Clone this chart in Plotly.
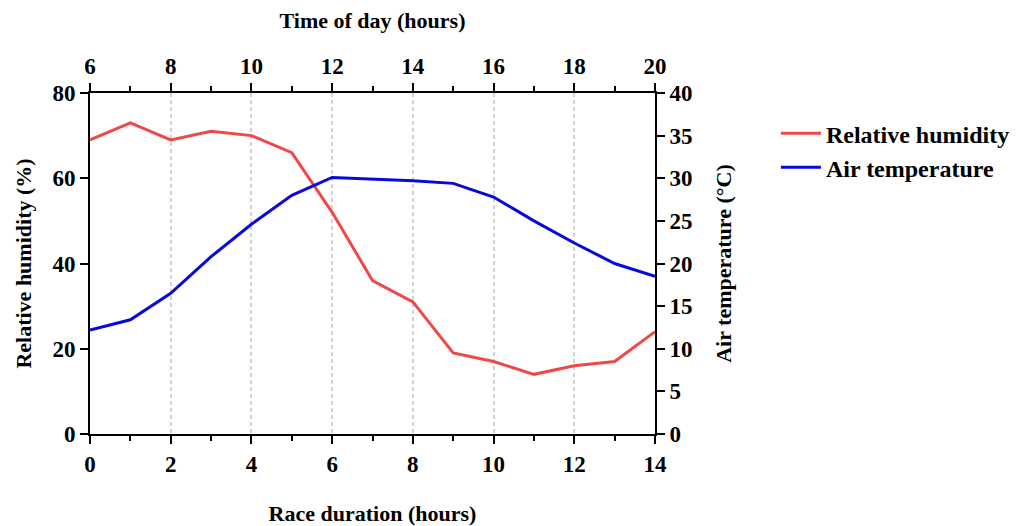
import plotly.graph_objects as go

race_hours = list(range(0, 15))
humidity = [69, 73, 69, 71, 70, 66, 52, 36, 31, 19, 17, 14, 16, 17, 24]
air_temp = [12.2, 13.4, 16.5, 20.8, 24.6, 28.0, 30.1, 29.9, 29.7, 29.4, 27.8, 25.0, 22.4, 20.0, 18.5]
time_of_day = [6, 20]

FONT = "Liberation Serif"
TICKFONT = dict(family=FONT, size=23, color="black", weight="bold")
TITLEFONT = dict(family=FONT, size=22, color="black", weight="bold")

fig = go.Figure()
fig.add_trace(go.Scatter(x=race_hours, y=humidity, mode="lines", name="Relative humidity",
                         legendgroup="a",
                         line=dict(color="#F04848", width=3), xaxis="x", yaxis="y"))
fig.add_trace(go.Scatter(x=race_hours, y=air_temp, mode="lines", name="Air temperature",
                         legendgroup="b",
                         line=dict(color="#0808DC", width=3), xaxis="x", yaxis="y2"))
fig.add_trace(go.Scatter(x=time_of_day, y=[None, None], mode="lines", showlegend=False,
                         hoverinfo="skip", xaxis="x2", yaxis="y"))

axis_common = dict(showline=True, linecolor="black", linewidth=2, ticks="outside",
                   tickcolor="black", tickwidth=2, ticklen=8, zeroline=False,
                   automargin=False, tickfont=TICKFONT)

fig.update_layout(
    width=1020, height=518,
    margin=dict(l=82, r=373, t=85, b=92),
    paper_bgcolor="white", plot_bgcolor="white",
    font=dict(family=FONT, color="black"),
    xaxis=dict(range=[0, 14], tickvals=list(range(0, 15, 2)),
               minor=dict(tickvals=list(range(1, 15, 2)), ticks="outside", ticklen=5,
                          tickcolor="black", tickwidth=2),
               showgrid=True, gridcolor="#d2d2d2", griddash="4px,3px", gridwidth=1.5,
               title=dict(text="Race duration (hours)", font=TITLEFONT, standoff=30),
               **axis_common),
    xaxis2=dict(range=[6, 20], tickvals=list(range(6, 21, 2)), overlaying="x", side="top",
                minor=dict(tickvals=list(range(7, 21, 2)), ticks="outside", ticklen=5,
                          tickcolor="black", tickwidth=2),
                showgrid=False,
                title=dict(text="Time of day (hours)", font=TITLEFONT, standoff=22),
                **axis_common),
    yaxis=dict(range=[0, 80], tickvals=[0, 20, 40, 60, 80], showgrid=False,
               title=dict(text="Relative humidity (%)", font=TITLEFONT, standoff=15),
               **axis_common),
    yaxis2=dict(range=[0, 40], tickvals=list(range(0, 41, 5)), overlaying="y", side="right",
                showgrid=False,
                title=dict(text="Air temperature (°C)", font=TITLEFONT, standoff=24),
                **axis_common),
    legend=dict(x=1.214, y=0.947, xanchor="left", yanchor="top",
                font=dict(family=FONT, size=24, color="black", weight="bold"),
                bgcolor="rgba(0,0,0,0)", tracegroupgap=0, itemwidth=40),
)
fig.write_html("out.html")
